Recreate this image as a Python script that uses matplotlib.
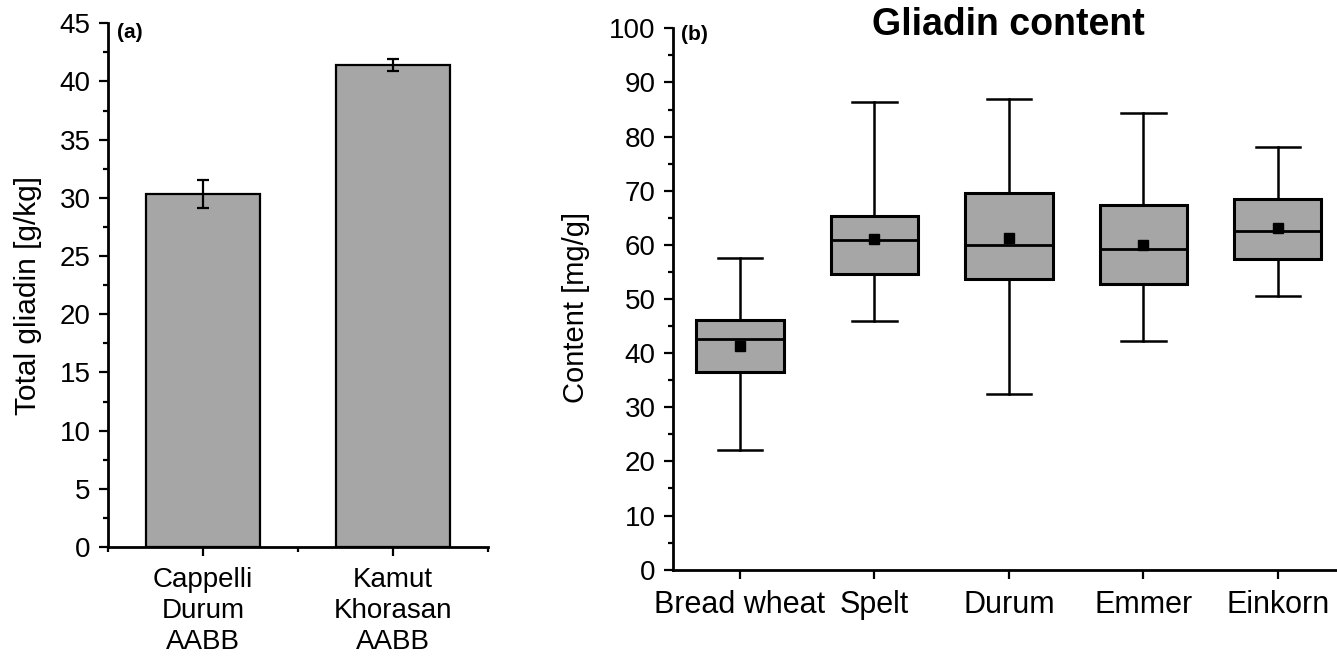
import numpy as np
import matplotlib
matplotlib.use("Agg")
import matplotlib.pyplot as plt
from matplotlib.ticker import MultipleLocator

plt.rcParams['font.family'] = ['Liberation Sans', 'DejaVu Sans']

# panel (a): total gliadin of two durum-type wheats
bar_labels = ['Cappelli\nDurum\nAABB', 'Kamut\nKhorasan\nAABB']
total_gliadin = [30.3, 41.4]
gliadin_err = [1.2, 0.5]

# panel (b): gliadin content per wheat species (box stats)
box_labels = ['Bread wheat', 'Spelt', 'Durum', 'Emmer', 'Einkorn']
whis_lo = [22.2, 46.0, 32.4, 42.3, 50.6]
q1 = [36.5, 54.7, 53.7, 52.8, 57.4]
median = [42.7, 60.9, 60.0, 59.2, 62.6]
q3 = [46.1, 65.3, 69.6, 67.3, 68.5]
whis_hi = [57.6, 86.3, 87.0, 84.4, 78.1]
mean = [41.3, 61.0, 61.2, 60.0, 63.1]

GRAY = '#a6a6a6'
W, H = 1337, 663

fig = plt.figure(figsize=(W / 100, H / 100), dpi=100)

# pixel boxes -> figure fractions
ax1 = fig.add_axes([108 / W, 1 - 547 / H, 380 / W, (547 - 23.3) / H])
ax2 = fig.add_axes([672.8 / W, 1 - 569.7 / H, 672.2 / W, (569.7 - 28.3) / H])


def style_axes(ax):
    for s in ['top', 'right']:
        ax.spines[s].set_visible(False)
    for s in ['left', 'bottom']:
        ax.spines[s].set_linewidth(2.0)
    ax.tick_params(which='major', direction='out', length=6.5, width=1.6, labelsize=20, pad=6)
    ax.tick_params(which='minor', direction='out', length=3.5, width=1.6)


# ---- (a) bar chart ----
x1 = np.arange(1, len(bar_labels) + 1)
ax1.bar(x1, total_gliadin, width=0.6, color=GRAY, edgecolor='black', linewidth=1.6, zorder=2)
ax1.errorbar(x1, total_gliadin, yerr=gliadin_err, fmt='none', ecolor='black',
             elinewidth=1.6, capsize=4, capthick=1.6, zorder=3)
ax1.set_xlim(0.5, 2.5)
ax1.set_ylim(0, 45)
ax1.set_xticks(x1)
ax1.set_xticklabels(bar_labels, fontsize=22.5, linespacing=1.24)
ax1.xaxis.set_minor_locator(MultipleLocator(0.5))
ax1.yaxis.set_major_locator(MultipleLocator(5))
ax1.yaxis.set_minor_locator(MultipleLocator(2.5))
style_axes(ax1)
ax1.tick_params(axis='x', which='major', pad=8)
ax1.set_ylabel('Total gliadin [g/kg]', fontsize=21.5)
ax1.yaxis.set_label_coords(-0.174, 0.48)
ax1.text(117, H - 23, '(a)', transform=None, fontsize=15, fontweight='bold', va='top')

# ---- (b) box plot ----
stats = []
for i in range(len(box_labels)):
    stats.append({'label': box_labels[i], 'whislo': whis_lo[i], 'q1': q1[i],
                  'med': median[i], 'q3': q3[i], 'whishi': whis_hi[i],
                  'mean': mean[i], 'fliers': []})
ax2.bxp(stats, positions=range(1, len(box_labels) + 1), widths=0.65,
        capwidths=0.33, patch_artist=True, showmeans=True,
        boxprops=dict(facecolor=GRAY, edgecolor='black', linewidth=2.2),
        medianprops=dict(color='black', linewidth=2.0),
        whiskerprops=dict(color='black', linewidth=1.8),
        capprops=dict(color='black', linewidth=1.8),
        meanprops=dict(marker='s', markerfacecolor='black', markeredgecolor='black', markersize=7.5))
ax2.set_xlim(0.5, 5.5)
ax2.set_ylim(0, 100)
ax2.yaxis.set_major_locator(MultipleLocator(10))
ax2.yaxis.set_minor_locator(MultipleLocator(5))
style_axes(ax2)
ax2.tick_params(axis='x', which='major', labelsize=22, pad=8)
ax2.set_ylabel('Content [mg/g]', fontsize=21)
ax2.yaxis.set_label_coords(-0.123, 0.485)
ax2.text(681, H - 25, '(b)', transform=None, fontsize=15, fontweight='bold', va='top')

fig.text(1008 / W, 1 - 25 / H, 'Gliadin content', fontsize=27, fontweight='bold',
         ha='center', va='center')

fig.savefig('out.png', dpi=100)
